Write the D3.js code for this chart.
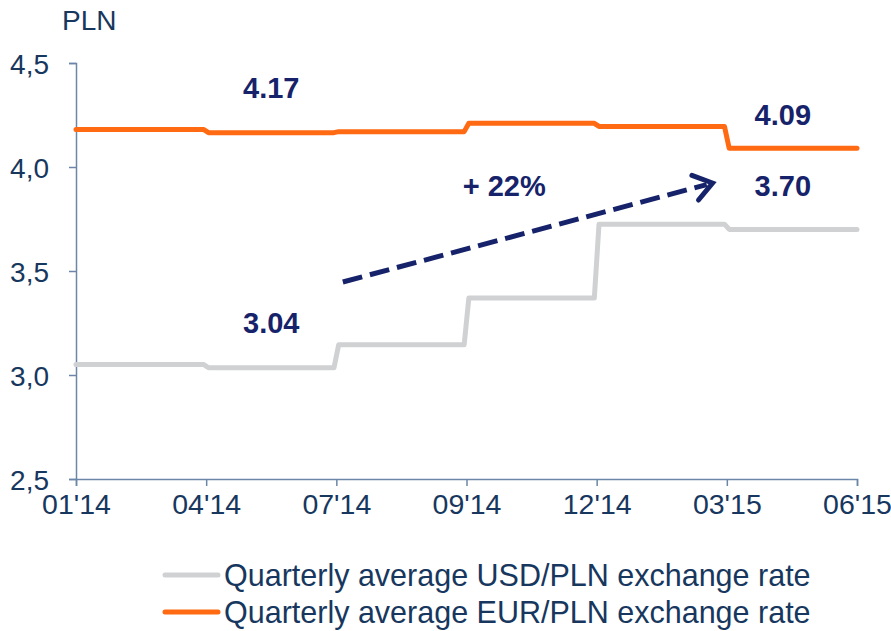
<!DOCTYPE html>
<html lang="en">
<head>
<meta charset="UTF-8">
<title>PLN exchange rates</title>
<script src="https://d3js.org/d3.v7.min.js"></script>
<style>
  body { margin: 0; background: #fff; }
  text { font-family: "Liberation Sans", Arial, sans-serif; }
</style>
</head>
<body>
<script>
const periods = ["01'14", "04'14", "07'14", "09'14", "12'14", "03'15", "06'15"];
const usdValues = [3.05, 3.035, 3.145, 3.37, 3.725, 3.70];
const eurValues = [4.18, 4.165, 4.17, 4.21, 4.195, 4.09];
const yTicks = [2.5, 3.0, 3.5, 4.0, 4.5];
const seriesNames = ["Quarterly average USD/PLN exchange rate", "Quarterly average EUR/PLN exchange rate"];

const w = 891, h = 631;
const axisColor = "#6b86a8";
const tickText = "#17375e";
const noteColor = "#16236a";

const svg = d3.select("body").append("svg").attr("width", w).attr("height", h);

const x = d3.scaleLinear().domain([0, periods.length - 1]).range([76, 857]);
const y = d3.scaleLinear().domain([2.5, 4.5]).range([479, 63]);

// axes
const yAxis = d3.axisLeft(y).tickValues(yTicks).tickSize(7).tickPadding(20)
  .tickFormat(d => d.toFixed(1).replace(".", ","));
const gy = svg.append("g").attr("transform", `translate(${x(0)},0)`).call(yAxis);
gy.select(".domain").attr("stroke", axisColor).attr("stroke-width", 1.5);
gy.selectAll(".tick line").attr("stroke", axisColor).attr("stroke-width", 1.5);
gy.selectAll(".tick text").attr("fill", tickText).style("font-size", "28px").attr("dy", "0.36em");

const xAxis = d3.axisBottom(x).tickValues(d3.range(periods.length)).tickSize(7).tickPadding(8)
  .tickFormat(i => periods[i]);
const gx = svg.append("g").attr("transform", `translate(0,${y(2.5)})`).call(xAxis);
gx.select(".domain").attr("stroke", axisColor).attr("stroke-width", 1.5);
gx.selectAll(".tick line").attr("stroke", axisColor).attr("stroke-width", 1.5);
gx.selectAll(".tick text").attr("fill", tickText).style("font-size", "28.5px");

svg.append("text").attr("x", 62).attr("y", 30).attr("fill", tickText)
  .style("font-size", "28px").text("PLN");

// step lines
const gap = 0.018;
function steps(vals) {
  const pts = [];
  vals.forEach((v, i) => {
    pts.push([i === 0 ? i : i + gap, v]);
    pts.push([i === vals.length - 1 ? i + 1 : i + 1 - gap, v]);
  });
  return pts;
}
const line = d3.line().x(d => x(d[0])).y(d => y(d[1]));

svg.append("path").datum(steps(usdValues)).attr("d", line)
  .attr("fill", "none").attr("stroke", "#d0d1d3").attr("stroke-width", 5)
  .attr("stroke-linejoin", "round").attr("stroke-linecap", "round");
svg.append("path").datum(steps(eurValues)).attr("d", line)
  .attr("fill", "none").attr("stroke", "#ff6a13").attr("stroke-width", 5)
  .attr("stroke-linejoin", "round").attr("stroke-linecap", "round");

// value notes
const notes = [
  { t: "4.17", i: 1.5, v: 4.33 },
  { t: "4.09", i: 5.43, v: 4.2 },
  { t: "3.70", i: 5.43, v: 3.86 },
  { t: "3.04", i: 1.5, v: 3.2 },
  { t: "+ 22%", i: 3.29, v: 3.86 }
];
svg.selectAll(".note").data(notes).enter().append("text")
  .attr("class", "note")
  .attr("x", d => x(d.i)).attr("y", d => y(d.v))
  .attr("text-anchor", "middle").attr("fill", noteColor)
  .style("font-size", "29px").style("font-weight", "bold")
  .text(d => d.t);

// dashed arrow
const arrowFrom = [2.05, 3.447], arrowTo = [4.89, 3.923];
const x1 = x(arrowFrom[0]), y1 = y(arrowFrom[1]), x2 = x(arrowTo[0]), y2 = y(arrowTo[1]);
const ang = Math.atan2(y2 - y1, x2 - x1);
svg.append("line").attr("x1", x1).attr("y1", y1)
  .attr("x2", x2 - 6 * Math.cos(ang)).attr("y2", y2 - 6 * Math.sin(ang))
  .attr("stroke", noteColor).attr("stroke-width", 5).attr("stroke-dasharray", "20 8");
const head = 22, spread = 0.62;
svg.append("path")
  .attr("d", `M${x2 - head * Math.cos(ang - spread)},${y2 - head * Math.sin(ang - spread)}L${x2},${y2}L${x2 - head * Math.cos(ang + spread)},${y2 - head * Math.sin(ang + spread)}`)
  .attr("fill", "none").attr("stroke", noteColor).attr("stroke-width", 5)
  .attr("stroke-linecap", "round").attr("stroke-linejoin", "miter");

// legend
const legendColors = ["#d0d1d3", "#ff6a13"];
const lg = svg.selectAll(".lg").data(seriesNames).enter().append("g")
  .attr("transform", (d, i) => `translate(165,${575 + i * 37})`);
lg.append("line").attr("x1", 0).attr("x2", 53).attr("y1", 0).attr("y2", 0)
  .attr("stroke", (d, i) => legendColors[i]).attr("stroke-width", 5).attr("stroke-linecap", "round");
lg.append("text").attr("x", 59).attr("y", 11).attr("fill", tickText)
  .style("font-size", "30.5px").text(d => d);
</script>
</body>
</html>
